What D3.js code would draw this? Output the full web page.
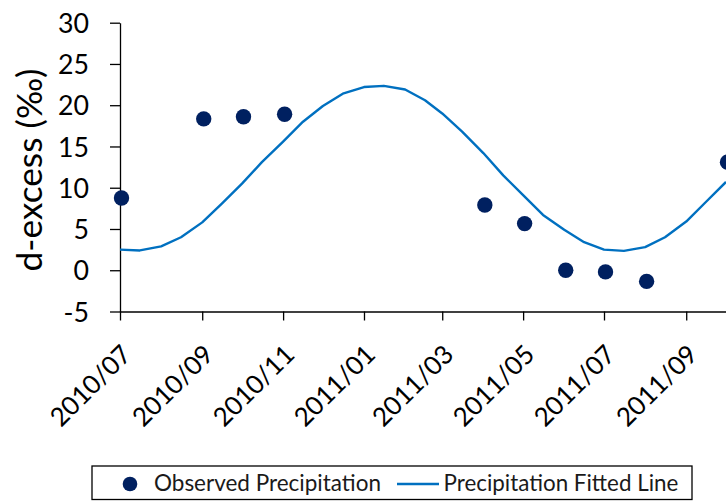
<!DOCTYPE html>
<html>
<head>
<meta charset="utf-8">
<script src="https://cdn.jsdelivr.net/npm/d3@7"></script>
<style>
  body { margin: 0; background: #fff; }
  svg { display: block; }
  text { font-family: Lato, "Open Sans", "Noto Sans", sans-serif; }
</style>
</head>
<body>
<svg id="chart" width="726" height="503"></svg>
<script>
// Monthly observed d-excess of precipitation (‰)
const observedDates = ["2010-07-01", "2010-09-01", "2010-10-01", "2010-11-01",
  "2011-04-01", "2011-05-01", "2011-06-01", "2011-07-01", "2011-08-01", "2011-10-01"];
const observedValues = [8.75, 18.35, 18.6, 18.9, 7.9, 5.65, 0.0, -0.2, -1.35, 13.1];

// Semi-monthly values of the fitted seasonal curve (‰)
const fittedDates = ["2010-07-01", "2010-07-16", "2010-08-01", "2010-08-16", "2010-09-01",
  "2010-09-16", "2010-10-01", "2010-10-16", "2010-11-01", "2010-11-16", "2010-12-01",
  "2010-12-16", "2011-01-01", "2011-01-16", "2011-02-01", "2011-02-16", "2011-03-01",
  "2011-03-16", "2011-04-01", "2011-04-16", "2011-05-01", "2011-05-16", "2011-06-01",
  "2011-06-16", "2011-07-01", "2011-07-16", "2011-08-01", "2011-08-16", "2011-09-01",
  "2011-09-16", "2011-10-01"];
const fittedValues = [2.5, 2.4, 2.9, 4.0, 5.8, 8.1, 10.5, 13.1, 15.6, 18.0, 19.9,
  21.4, 22.2, 22.35, 21.9, 20.6, 19.0, 16.8, 14.2, 11.5, 9.1, 6.7, 4.9,
  3.4, 2.5, 2.35, 2.8, 4.0, 5.9, 8.3, 10.7];

const xDomain = ["2010-07-01", "2011-10-01"];
const xTickDates = ["2010-07-01", "2010-09-01", "2010-11-01", "2011-01-01",
  "2011-03-01", "2011-05-01", "2011-07-01", "2011-09-01"];
const xTickLabels = ["2010/07", "2010/09", "2010/11", "2011/01",
  "2011/03", "2011/05", "2011/07", "2011/09"];
const yDomain = [-5, 30];
const yTicks = [-5, 0, 5, 10, 15, 20, 25, 30];
const yTitle = "d-excess (‰)";
const legendLabels = ["Observed Precipitation", "Precipitation Fitted Line"];

const parse = d3.utcParse("%Y-%m-%d");
const dotColor = "#002060";
const lineColor = "#0070C0";

const svg = d3.select("#chart");
svg.append("rect").attr("width", 726).attr("height", 503).attr("fill", "#fff");

const x = d3.scaleUtc().domain(xDomain.map(parse)).range([120, 726]);
const y = d3.scaleLinear().domain(yDomain).range([311.5, 22.7]);

// scale a text element to a target length
function fitTo(sel, target) {
  const node = sel.node();
  const fs = parseFloat(getComputedStyle(node).fontSize);
  const w = node.getComputedTextLength();
  sel.style("font-size", (fs * target / w) + "px");
}

// y axis
const yAxis = svg.append("g")
  .attr("transform", "translate(120,0)")
  .call(d3.axisLeft(y).tickValues(yTicks).tickSize(10).tickSizeOuter(0).tickPadding(21)
    .tickFormat(d => String(d)));
yAxis.select(".domain").attr("stroke", "#000").attr("stroke-width", 1.3);
yAxis.selectAll(".tick line").attr("stroke", "#000").attr("stroke-width", 1.3);
const yLabels = yAxis.selectAll(".tick text")
  .attr("fill", "#000").attr("font-family", null).style("font-size", "27px")
  .attr("dy", "0.36em");
const topLabel = yAxis.selectAll(".tick text").filter(d => d === 30);
fitTo(topLabel, 31);
yLabels.style("font-size", topLabel.style("font-size"));

// x axis
const xAxis = svg.append("g")
  .attr("transform", `translate(0,${y(-5)})`)
  .call(d3.axisBottom(x).tickValues(xTickDates.map(parse)).tickSize(9).tickSizeOuter(0)
    .tickFormat((d, i) => xTickLabels[i]));
xAxis.select(".domain").attr("stroke", "#000").attr("stroke-width", 1.3);
xAxis.selectAll(".tick line").attr("stroke", "#000").attr("stroke-width", 1.3);
const xLabels = xAxis.selectAll(".tick text")
  .attr("fill", "#000").attr("font-family", null).style("font-size", "27px")
  .attr("text-anchor", "end")
  .attr("x", null).attr("y", null).attr("dy", null)
  .attr("transform", "translate(12.5,44.5) rotate(-45)");
const lastLabel = d3.select(xLabels.nodes()[xLabels.size() - 1]);
fitTo(lastLabel, 102);
xLabels.style("font-size", lastLabel.style("font-size"));

// y title
const title = svg.append("text")
  .attr("transform", "translate(42,170) rotate(-90)")
  .attr("text-anchor", "middle")
  .attr("fill", "#000")
  .style("font-size", "34px")
  .text(yTitle);
fitTo(title, 203);

// fitted line
const fitted = fittedDates.map((d, i) => ({ date: parse(d), value: fittedValues[i] }));
svg.append("path")
  .datum(fitted)
  .attr("fill", "none")
  .attr("stroke", lineColor)
  .attr("stroke-width", 2.4)
  .attr("stroke-linejoin", "round")
  .attr("d", d3.line().x(d => x(d.date)).y(d => y(d.value)));

// observed points
const observed = observedDates.map((d, i) => ({ date: parse(d), value: observedValues[i] }));
svg.append("g").selectAll("circle")
  .data(observed)
  .join("circle")
  .attr("cx", d => x(d.date) + 1.5)
  .attr("cy", d => y(d.value))
  .attr("r", 7.7)
  .attr("fill", dotColor);

// legend
const legend = svg.append("g");
legend.append("rect")
  .attr("x", 92).attr("y", 466).attr("width", 600).attr("height", 33.5)
  .attr("fill", "#fff").attr("stroke", "#000").attr("stroke-width", 1.3);
legend.append("circle").attr("cx", 130).attr("cy", 484).attr("r", 7.3).attr("fill", dotColor);
const lt1 = legend.append("text").attr("x", 154).attr("y", 490.5)
  .attr("fill", "#1a1a1a").style("font-size", "22px").text(legendLabels[0]);
fitTo(lt1, 227);
legend.append("line").attr("x1", 397).attr("x2", 439).attr("y1", 484).attr("y2", 484)
  .attr("stroke", lineColor).attr("stroke-width", 2.6);
const lt2 = legend.append("text").attr("x", 443.5).attr("y", 490.5)
  .attr("fill", "#1a1a1a").style("font-size", "22px").text(legendLabels[1]);
fitTo(lt2, 235);
</script>
</body>
</html>
